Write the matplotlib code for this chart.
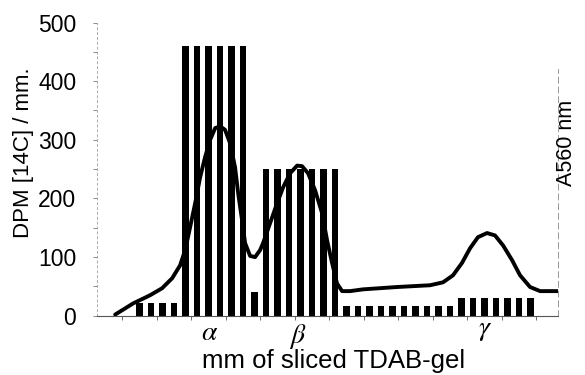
import matplotlib
matplotlib.use("Agg")
import matplotlib.pyplot as plt
import numpy as np

# ---- data ----
# DPM per mm slice (bars), slices 4..38
slice_mm = list(range(4, 39))
dpm = ([22, 22, 22, 22] +
       [460, 460, 460, 460, 460, 460] +
       [40] +
       [250, 250, 250, 250, 250, 250, 250] +
       [16, 16, 16, 16, 16, 16, 16, 16, 16, 16] +
       [30, 30, 30, 30, 30, 30, 30])

# A560 absorbance trace (drawn on the same scale)
a560_x = [1.87, 3.43, 4.91, 5.96, 6.83, 7.52, 7.96, 8.39, 8.83, 9.26, 9.70,
          10.13, 10.57, 11.00, 11.43, 11.87, 12.30, 12.57, 12.91, 13.17, 13.61,
          14.04, 14.48, 14.74, 15.35, 15.96, 16.48, 17.09, 17.70, 18.13, 18.65,
          19.26, 19.87, 20.30, 20.74, 21.17, 21.61, 22.30, 23.43, 26.39, 29.26,
          30.39, 31.26, 32.04, 32.74, 33.43, 34.22, 34.91, 35.61, 36.39, 37.09,
          37.96, 38.83, 40.39]
a560_y = [2, 21, 35, 47, 64, 86, 112, 151, 192, 236, 271,
          300, 320, 323, 317, 294, 253, 209, 163, 124, 102,
          100, 112, 124, 158, 192, 219, 243, 256, 255, 243,
          214, 175, 129, 90, 55, 42, 42, 45, 49, 52,
          57, 69, 90, 115, 134, 141, 137, 120, 95, 69,
          49, 42, 42]

y_ticks = [0, 100, 200, 300, 400, 500]
peak_labels = [r"$\alpha$", r"$\beta$", r"$\gamma$"]
peak_x = [10.13, 17.78, 34.04]
peak_y = [-30, -35, -25]

# ---- figure ----
plt.rcParams['font.family'] = ['Liberation Sans', 'DejaVu Sans']
fig = plt.figure(figsize=(5.85, 3.75), dpi=100)
ax = fig.add_axes([0.166, 0.158, 0.788, 0.782])

ax.bar(slice_mm, dpm, width=0.56, color='black', zorder=2)
ax.plot(a560_x, a560_y, color='black', lw=2.8, zorder=3,
        solid_capstyle='round', solid_joinstyle='round')

ax.set_xlim(0.3, 40.4)
ax.set_ylim(0, 500)

ax.set_yticks(y_ticks)
ax.set_yticklabels([str(v) for v in y_ticks], fontsize=16.5)
ax.set_yticks(np.arange(50, 500, 100), minor=True)
ax.tick_params(axis='y', which='both', length=3, width=0.6, color='#777777', pad=12)

ax.set_xticks(np.arange(2.5, 40, 3.0))
ax.set_xticklabels([])
ax.tick_params(axis='x', which='both', length=3, width=0.6, color='#555555', direction='out')

ax.spines['top'].set_visible(False)
ax.spines['left'].set_color('#aaaaaa')
ax.spines['left'].set_linestyle((0, (2, 3)))
ax.spines['left'].set_linewidth(0.7)
ax.spines['right'].set_color('#999999')
ax.spines['right'].set_linestyle((0, (6, 4)))
ax.spines['right'].set_linewidth(0.7)
ax.spines['right'].set_bounds(0, 420)
ax.spines['bottom'].set_color('#555555')
ax.spines['bottom'].set_linewidth(0.8)

for lab, xp, yp in zip(peak_labels, peak_x, peak_y):
    ax.text(xp, yp, lab, ha='center', va='center', fontsize=20,
            math_fontfamily='stix', clip_on=False)

fig.text(0.571, 0.038, "mm of sliced TDAB-gel", ha='center', va='center', fontsize=18.5)
fig.text(0.04, 0.592, "DPM [14C] / mm.", ha='center', va='center', rotation=90, fontsize=16)
fig.text(0.969, 0.62, "A560 nm", ha='center', va='center', rotation=90, fontsize=15.5)

fig.savefig("out.png", dpi=100)
